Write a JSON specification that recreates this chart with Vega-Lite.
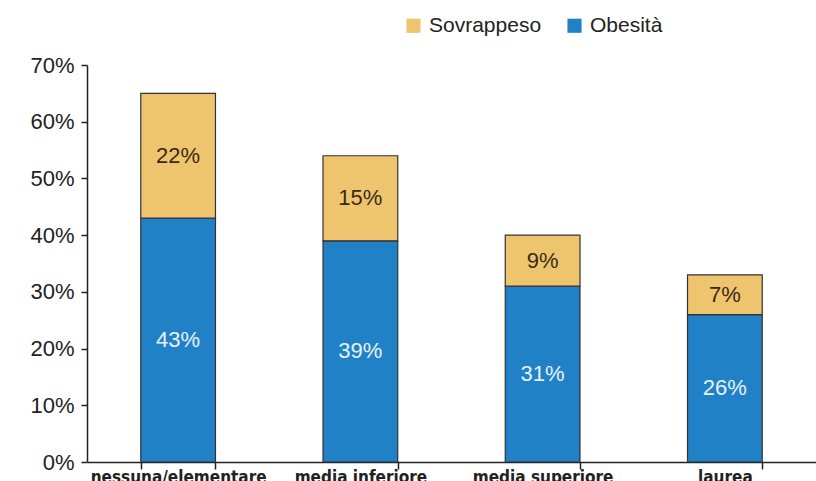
{
  "$schema": "https://vega.github.io/schema/vega-lite/v6.json",
  "width": 729,
  "height": 397,
  "autosize": {"type": "none"},
  "padding": {"left": 87, "top": 65, "right": 0, "bottom": 19},
  "background": "white",
  "config": {
    "view": {"stroke": null},
    "font": "Liberation Sans"
  },
  "data": {
    "values": [
      {"istruzione": "nessuna/elementare", "tipo": "Obesità", "valore": 43},
      {"istruzione": "nessuna/elementare", "tipo": "Sovrappeso", "valore": 22},
      {"istruzione": "media inferiore", "tipo": "Obesità", "valore": 39},
      {"istruzione": "media inferiore", "tipo": "Sovrappeso", "valore": 15},
      {"istruzione": "media superiore", "tipo": "Obesità", "valore": 31},
      {"istruzione": "media superiore", "tipo": "Sovrappeso", "valore": 9},
      {"istruzione": "laurea", "tipo": "Obesità", "valore": 26},
      {"istruzione": "laurea", "tipo": "Sovrappeso", "valore": 7}
    ]
  },
  "layer": [
    {
      "mark": {"type": "bar", "stroke": "#333", "strokeWidth": 1.2},
      "encoding": {
        "x": {
          "field": "istruzione",
          "type": "nominal",
          "sort": ["nessuna/elementare", "media inferiore", "media superiore", "laurea"],
          "scale": {"paddingInner": 0.59, "paddingOuter": 0.295},
          "axis": {
            "title": null,
            "labelAngle": 0,
            "labelFont": "DejaVu Sans Condensed",
            "labelFontWeight": "bold",
            "labelFontSize": 17,
            "labelColor": "#222",
            "labelPadding": 0,
            "tickBand": "extent",
            "tickSize": 7,
            "tickColor": "#222",
            "domainColor": "#222",
            "domainWidth": 1.5,
            "tickWidth": 1.5
          }
        },
        "y": {
          "field": "valore",
          "type": "quantitative",
          "stack": "zero",
          "scale": {"domain": [0, 70], "nice": false},
          "axis": {
            "title": null,
            "values": [0, 10, 20, 30, 40, 50, 60, 70],
            "labelExpr": "datum.value + '%'",
            "labelFontSize": 22,
            "labelColor": "#222",
            "labelPadding": 7,
            "tickSize": 6,
            "tickColor": "#222",
            "domainColor": "#222",
            "domainWidth": 1.5,
            "tickWidth": 1.5,
            "grid": false
          }
        },
        "order": {"field": "tipo", "sort": "ascending"},
        "color": {
          "field": "tipo",
          "type": "nominal",
          "scale": {"domain": ["Sovrappeso", "Obesità"], "range": ["#eec46f", "#2181c7"]},
          "legend": {
            "title": null,
            "orient": "none",
            "direction": "horizontal",
            "legendX": 316,
            "legendY": -50,
            "symbolType": "square",
            "symbolSize": 200,
            "symbolStrokeWidth": 0,
            "labelFontSize": 21,
            "labelColor": "#222",
            "columnPadding": 22,
            "labelOffset": 5,
            "encode": {
              "symbols": {
                "enter": {
                  "fill": {"signal": "datum.label === 'Sovrappeso' ? '#f5c06f' : '#7fa7d9'"}
                },
                "update": {
                  "fill": {"signal": "datum.label === 'Sovrappeso' ? '#f5c06f' : '#7fa7d9'"}
                }
              }
            }
          }
        }
      }
    },
    {
      "transform": [
        {"stack": "valore", "groupby": ["istruzione"], "sort": [{"field": "tipo", "order": "ascending"}], "as": ["v0", "v1"]},
        {"calculate": "(datum.v0 + datum.v1) / 2", "as": "mid"},
        {"calculate": "datum.valore + '%'", "as": "etichetta"}
      ],
      "mark": {"type": "text", "fontSize": 22, "baseline": "middle"},
      "encoding": {
        "x": {
          "field": "istruzione",
          "type": "nominal",
          "sort": ["nessuna/elementare", "media inferiore", "media superiore", "laurea"]
        },
        "y": {"field": "mid", "type": "quantitative"},
        "text": {"field": "etichetta", "type": "nominal"},
        "fill": {
          "field": "tipo",
          "type": "nominal",
          "scale": {"domain": ["Sovrappeso", "Obesità"], "range": ["#3b2a12", "#e8f1fa"]},
          "legend": null
        }
      }
    }
  ]
}
